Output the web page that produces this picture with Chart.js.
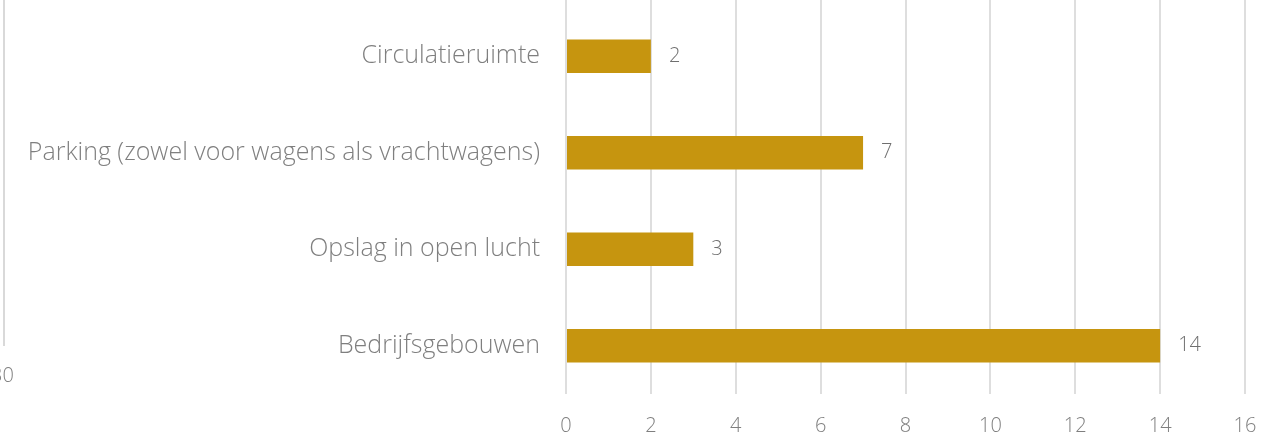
<!DOCTYPE html>
<html>
<head>
<meta charset="utf-8">
<script src="https://cdn.jsdelivr.net/npm/chart.js@4/dist/chart.umd.min.js"></script>
<style>
  html, body { margin: 0; padding: 0; background: #fff; overflow: hidden; }
  #wrap { position: relative; width: 1283px; height: 438px; }
  #edge { position: absolute; left: 3px; top: 0; height: 346px; border-left: 2px solid #d9d9d9; }
  #edgeLabel { position: absolute; left: -9px; top: 361px; font: 300 20px "Open Sans", sans-serif; color: #808080; }
</style>
</head>
<body>
<div id="wrap">
  <canvas id="chart" width="1283" height="438"></canvas>
  <div id="edge"></div>
  <div id="edgeLabel">30</div>
</div>
<script>
// Categories and values, top to bottom as in the picture
const categories = [
    'Circulatieruimte',
    'Parking (zowel voor wagens als vrachtwagens)',
    'Opslag in open lucht',
    'Bedrijfsgebouwen'
];
const counts = [2, 7, 3, 14];
const xMin = 0;
const xMax = 16;
const xStep = 2;

const barColor = '#C6950F';
const textGray = '#7f7f7f';
const gridGray = '#dedede';

// draws the number at the end of each bar
const valueLabels = {
    id: 'valueLabels',
    afterDatasetsDraw(chart) {
        const ctx = chart.ctx;
        const meta = chart.getDatasetMeta(0);
        ctx.save();
        ctx.font = '300 20px "Open Sans", sans-serif';
        ctx.fillStyle = '#6f6f6f';
        ctx.textAlign = 'left';
        ctx.textBaseline = 'middle';
        meta.data.forEach((bar, i) => {
            ctx.fillText(String(counts[i]), bar.x + 18, bar.y);
        });
        ctx.restore();
    }
};

// gridlines run up to the top edge of the picture
const gridToTop = {
    id: 'gridToTop',
    beforeDatasetsDraw(chart) {
        const ctx = chart.ctx;
        const x = chart.scales.x;
        ctx.save();
        ctx.strokeStyle = gridGray;
        ctx.lineWidth = 2;
        for (let v = xMin; v <= xMax; v += xStep) {
            const px = Math.round(x.getPixelForValue(v));
            ctx.beginPath();
            ctx.moveTo(px, 0);
            ctx.lineTo(px, chart.chartArea.top + 1);
            ctx.stroke();
        }
        ctx.restore();
    }
};

new Chart(document.getElementById('chart'), {
    type: 'bar',
    data: {
        labels: categories,
        datasets: [{
            data: counts,
            backgroundColor: barColor,
            borderWidth: 0,
            categoryPercentage: 1,
            barPercentage: 0.345
        }]
    },
    options: {
        indexAxis: 'y',
        responsive: false,
        animation: false,
        layout: {
            padding: { top: 0, right: 38, bottom: 0, left: 0 }
        },
        scales: {
            x: {
                min: xMin,
                max: xMax,
                ticks: {
                    stepSize: xStep,
                    padding: 20,
                    color: textGray,
                    font: { family: 'Open Sans', size: 20, weight: 300 }
                },
                grid: {
                    color: gridGray,
                    lineWidth: 2,
                    drawTicks: false
                },
                border: { display: false },
                afterFit(scale) { scale.height = 44; }
            },
            y: {
                ticks: {
                    padding: 0,
                    color: textGray,
                    font: { family: 'Open Sans', size: 25, weight: 300 }
                },
                grid: {
                    display: true,
                    drawOnChartArea: false,
                    drawTicks: true,
                    tickLength: 26,
                    color: 'rgba(0,0,0,0)'
                },
                border: { display: false },
                afterFit(scale) {
                    scale.width = 566;
                    scale.paddingTop = 8;
                    scale.paddingBottom = 0;
                }
            }
        },
        plugins: {
            legend: { display: false },
            tooltip: { enabled: false }
        }
    },
    plugins: [gridToTop, valueLabels]
});
</script>
</body>
</html>
